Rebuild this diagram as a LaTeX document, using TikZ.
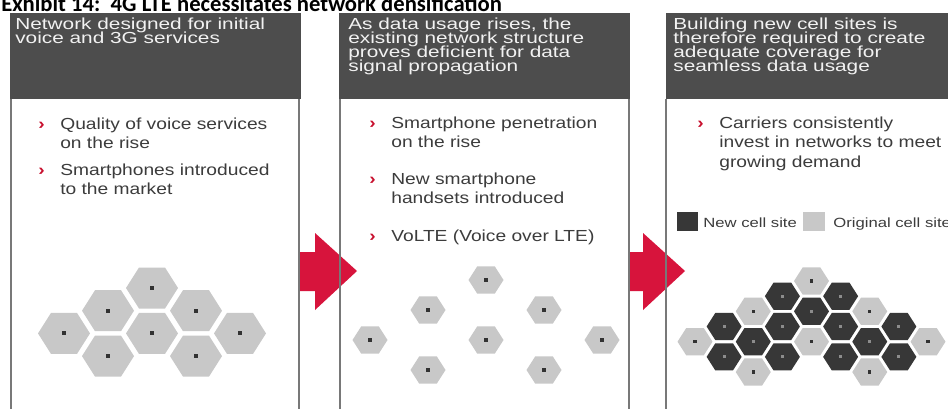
\documentclass[tikz,border=0pt]{standalone}
\usepackage{fontspec}
\setmainfont{Liberation Sans}
\newfontfamily\titlefont{Carlito}
\definecolor{hdrfill}{RGB}{77,77,77}
\definecolor{hdrtext}{RGB}{242,242,242}
\definecolor{bodytext}{RGB}{60,60,60}
\definecolor{bulred}{RGB}{200,16,46}
\definecolor{arrowred}{RGB}{215,20,60}
\definecolor{bordergray}{RGB}{120,120,120}
\definecolor{hexlight}{RGB}{200,200,200}
\definecolor{hexdark}{RGB}{55,55,55}
\definecolor{dotdark}{RGB}{50,50,50}
\definecolor{dotgray}{RGB}{140,140,140}
\tikzset{
  hdr/.style={anchor=base west,inner sep=0pt,text=hdrtext,font=\fontsize{12}{13}\selectfont,xscale=1.3},
  bodytxt/.style={anchor=base west,inner sep=0pt,text=bodytext,font=\fontsize{12}{14}\selectfont,xscale=1.2},
  bul/.style={anchor=base west,inner sep=0pt,text=bulred,font=\bfseries\fontsize{12}{14}\selectfont,xscale=1.2},
  leg/.style={anchor=base west,inner sep=0pt,text=bodytext,font=\fontsize{10}{12}\selectfont,xscale=1.25},
  panelborder/.style={draw=bordergray,line width=1.5pt},
  hdrbox/.style={fill=hdrfill},
  arrowshape/.style={fill=arrowred},
  pics/bighex/.style={code={
    \fill[hexlight] (-26,0) -- (-13,-20.5) -- (13,-20.5) -- (26,0) -- (13,20.5) -- (-13,20.5) -- cycle;
    \fill[dotdark] (-2,-2) rectangle (2,2);}},
  pics/smallhex/.style n args={2}{code={
    \fill[#1] (-17.5,0) -- (-8.8,-13.6) -- (8.8,-13.6) -- (17.5,0) -- (8.8,13.6) -- (-8.8,13.6) -- cycle;
    \fill[#2] (-1.6,-1.6) rectangle (1.6,1.6);}}
}
\begin{document}
\begin{tikzpicture}[x=0.75pt,y=-0.75pt]
\useasboundingbox (0,0) rectangle (948,408);
\clip (0,0) rectangle (948,408);
\fill[white] (0,0) rectangle (948,408);

% title
\node[anchor=base west,inner sep=0pt,font=\titlefont\bfseries\fontsize{17}{20}\selectfont] (title) at (1,11) {Exhibit 14:\ \ 4G LTE necessitates network densification};

% headers
\fill[hdrbox] (10,13) rectangle (301,99);
\fill[hdrbox] (339,13) rectangle (630,99);
\fill[hdrbox] (666,13) rectangle (952,99);

% arrows
\fill[arrowshape] (299,252) -- (315,252) -- (315,233) -- (357,271) -- (315,310) -- (315,291) -- (299,291) -- cycle;
\fill[arrowshape] (629,252) -- (643,252) -- (643,233) -- (685,271) -- (643,310) -- (643,291) -- (629,291) -- cycle;

% panel borders
\draw[panelborder] (11,99) -- (11,412);
\draw[panelborder] (299,99) -- (299,412);
\draw[panelborder] (340,99) -- (340,412);
\draw[panelborder] (629,99) -- (629,412);
\draw[panelborder] (666,99) -- (666,412);

% header texts
\node[hdr] (h1a) at (15,29) {Network designed for initial};
\node[hdr] (h1b) at (15,43) {voice and 3G services};
\node[hdr] (h2a) at (348,29) {As data usage rises, the};
\node[hdr] (h2b) at (348,43) {existing network structure};
\node[hdr] (h2c) at (348,57) {proves deficient for data};
\node[hdr] (h2d) at (348,71) {signal propagation};
\node[hdr] (h3a) at (673,29) {Building new cell sites is};
\node[hdr] (h3b) at (673,43) {therefore required to create};
\node[hdr] (h3c) at (673,57) {adequate coverage for};
\node[hdr] (h3d) at (673,71) {seamless data usage};

% bullets panel 1
\node[bul] (b1) at (38,129) {›};
\node[bodytxt] (t1a) at (60,129) {Quality of voice services};
\node[bodytxt] (t1b) at (60,148.5) {on the rise};
\node[bul] (b2) at (38,175) {›};
\node[bodytxt] (t2a) at (60,175) {Smartphones introduced};
\node[bodytxt] (t2b) at (60,194.5) {to the market};

% bullets panel 2
\node[bul] (b3) at (369,128) {›};
\node[bodytxt] (t3a) at (391,128) {Smartphone penetration};
\node[bodytxt] (t3b) at (391,147.5) {on the rise};
\node[bul] (b4) at (369,184) {›};
\node[bodytxt] (t4a) at (391,184) {New smartphone};
\node[bodytxt] (t4b) at (391,203.5) {handsets introduced};
\node[bul] (b5) at (369,241) {›};
\node[bodytxt] (t5a) at (391,241) {VoLTE (Voice over LTE)};

% bullets panel 3
\node[bul] (b6) at (697,128) {›};
\node[bodytxt] (t6a) at (719,128) {Carriers consistently};
\node[bodytxt] (t6b) at (719,147.5) {invest in networks to meet};
\node[bodytxt] (t6c) at (719,167) {growing demand};

% legend
\fill[hexdark] (677,212) rectangle (698,231);
\node[leg] (lnew) at (703,227) {New cell site};
\fill[hexlight] (803,212) rectangle (825,231);
\node[leg] (lorig) at (833,227) {Original cell site};

% panel 1 hexagons
\foreach \c/\r in {2/0,1/1,3/1,0/2,2/2,4/2,1/3,3/3}
  \pic at ({64+44*\c},{288+22.7*\r}) {bighex};

% panel 2 hexagons
\foreach \c/\r in {2/0,1/1,3/1,0/2,2/2,4/2,1/3,3/3}
  \pic at ({370+58*\c},{280+30*\r}) {smallhex={hexlight}{dotdark}};

% panel 3 hexagons
\foreach \c/\r in {4/0,2/2,6/2,0/4,4/4,8/4,2/6,6/6}
  \pic at ({695+29.125*\c},{281+15.17*\r}) {smallhex={hexlight}{dotdark}};
\foreach \c/\r in {3/1,5/1,4/2,1/3,3/3,5/3,7/3,2/4,6/4,1/5,3/5,5/5,7/5}
  \pic at ({695+29.125*\c},{281+15.17*\r}) {smallhex={hexdark}{dotgray}};
\end{tikzpicture}
\end{document}
